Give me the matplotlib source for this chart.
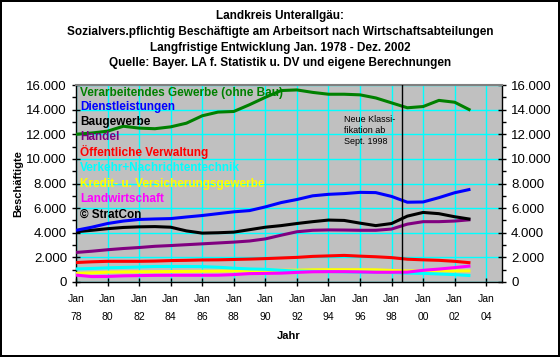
import numpy as np
import matplotlib
matplotlib.use("Agg")
import matplotlib.pyplot as plt
from matplotlib.ticker import MultipleLocator, FuncFormatter

plt.rcParams['font.family'] = ['Liberation Sans', 'DejaVu Sans']

# Jahreswerte (jeweils Januar)
jahre = np.arange(1978, 2004)

verarbeitendes = [12000, 12100, 12250, 12650, 12500, 12450, 12600, 12900, 13500, 13800,
                  13850, 14400, 15000, 15550, 15600, 15400, 15250, 15250, 15200, 14950,
                  14550, 14150, 14250, 14750, 14600, 13950]
dienstleistungen = [4200, 4450, 4750, 4950, 5080, 5120, 5150, 5280, 5400, 5550,
                    5700, 5800, 6100, 6450, 6700, 7000, 7120, 7180, 7280, 7260,
                    6950, 6480, 6500, 6850, 7250, 7530]
baugewerbe = [4080, 4200, 4330, 4430, 4480, 4500, 4450, 4150, 3970, 4000,
              4050, 4250, 4450, 4580, 4750, 4900, 5030, 5000, 4780, 4580,
              4750, 5350, 5650, 5550, 5300, 5100]
handel = [2400, 2500, 2620, 2720, 2800, 2900, 2960, 3030, 3100, 3170,
          3240, 3330, 3500, 3800, 4080, 4200, 4230, 4220, 4200, 4200,
          4300, 4700, 4900, 4900, 4950, 5060]
verwaltung = [1580, 1640, 1680, 1680, 1680, 1700, 1740, 1760, 1790, 1800,
              1830, 1860, 1900, 1950, 2000, 2080, 2120, 2160, 2100, 2050,
              1980, 1850, 1800, 1760, 1680, 1560]
verkehr = [1060, 1100, 1150, 1180, 1220, 1260, 1260, 1260, 1250, 1200,
           1120, 1060, 1030, 950, 880, 860, 850, 820, 800, 790,
           770, 720, 700, 650, 600, 520]
kredit = [700, 740, 800, 820, 830, 840, 850, 860, 870, 880,
          900, 920, 940, 950, 960, 990, 1000, 1000, 1000, 990,
          940, 900, 900, 900, 900, 900]
landwirtschaft = [560, 440, 450, 500, 520, 540, 545, 545, 545, 550,
                  600, 680, 700, 720, 780, 830, 840, 840, 820, 790,
                  790, 800, 950, 1050, 1170, 1300]

serien = [
    ("Verarbeitendes Gewerbe (ohne Bau)", verarbeitendes, "#008000"),
    ("Dienstleistungen", dienstleistungen, "#0000FF"),
    ("Baugewerbe", baugewerbe, "#000000"),
    ("Handel", handel, "#800080"),
    ("Öffentliche Verwaltung", verwaltung, "#FF0000"),
    ("Verkehr+Nachrichtentechnik", verkehr, "#00FFFF"),
    ("Kredit- u. Versicherungsgewerbe", kredit, "#FFFF00"),
    ("Landwirtschaft", landwirtschaft, "#FF00FF"),
]
# Zeichenreihenfolge (unten zuerst)
zeichen_folge = [6, 5, 7, 4, 3, 2, 1, 0]

x_ticks = np.arange(1978, 2005, 2)
x_labels = ["Jan\n%02d" % (j % 100) for j in x_ticks]
umstellung = 1998 + 8 / 12  # Sept. 1998

titel = ("Landkreis Unterallgäu:\n"
         "Sozialvers.pflichtig Beschäftigte am Arbeitsort nach Wirtschaftsabteilungen\n"
         "Langfristige Entwicklung Jan. 1978 - Dez. 2002\n"
         "Quelle: Bayer. LA f. Statistik u. DV und eigene Berechnungen")

fig = plt.figure(figsize=(5.6, 3.57), dpi=100)
fig.patch.set_facecolor("white")
fig.patch.set_edgecolor("black")
fig.patch.set_linewidth(1.5)

ax = fig.add_axes([76 / 560, 1 - 282 / 357, (502 - 76) / 560, (282 - 85) / 357])
ax.set_facecolor("#C0C0C0")

for i in zeichen_folge:
    name, werte, farbe = serien[i]
    ax.plot(jahre, werte, color=farbe, lw=2.2, solid_capstyle="butt", zorder=3)

ax.axvline(umstellung, color="black", lw=1, zorder=4)

ax.set_xlim(1978, 2005)
ax.set_ylim(0, 16000)
ax.set_xticks(x_ticks)
ax.set_xticklabels(x_labels, fontsize=7.5, linespacing=1.9)
ax.yaxis.set_major_locator(MultipleLocator(2000))
ax.yaxis.set_minor_locator(MultipleLocator(1000))
fmt = FuncFormatter(lambda v, p: "{:,.0f}".format(v).replace(",", "."))
ax.yaxis.set_major_formatter(fmt)
ax.grid(True, which="major", color="#00FFFF", lw=1, zorder=1)
ax.set_axisbelow(True)
ax.tick_params(axis="both", which="major", direction="inout", length=6, width=1,
               labelsize=9.5, colors="black")
ax.tick_params(axis="x", labelsize=7.5, pad=6)
ax.tick_params(axis="y", which="minor", direction="out", length=3, width=1)
ax.tick_params(axis="y", which="both", right=True, labelright=True)
ax.tick_params(axis="x", top=False)

for s in ["left", "bottom", "right"]:
    ax.spines[s].set_color("black")
    ax.spines[s].set_linewidth(1)
ax.spines["top"].set_color("#808080")
ax.spines["top"].set_linewidth(1.5)

ax.set_xlabel("Jahr", fontsize=8, fontweight="bold", labelpad=7)
ax.set_ylabel("Beschäftigte", fontsize=8, fontweight="bold", labelpad=2)

# Legende als Textzeilen im Diagramm
legende_y = [93, 107, 122, 137, 152, 168, 184, 199]
for (name, werte, farbe), yp in zip(serien, legende_y):
    fig.text(80 / 560, 1 - yp / 357, name, color=farbe, fontsize=8.5,
             fontweight="bold", va="center", ha="left")
fig.text(80 / 560, 1 - 215 / 357, "© StratCon", color="black", fontsize=8.5,
         fontweight="bold", va="center", ha="left")

ax.text(1995.0, 13600, "Neue Klassi-\nfikation ab\nSept. 1998", fontsize=6.5,
        va="top", ha="left", linespacing=1.35, zorder=5)

fig.text(0.5, 1 - 10 / 357, titel, ha="center", va="top", fontsize=8.5,
         fontweight="bold", linespacing=1.42)

fig.savefig("out.png", dpi=100)
